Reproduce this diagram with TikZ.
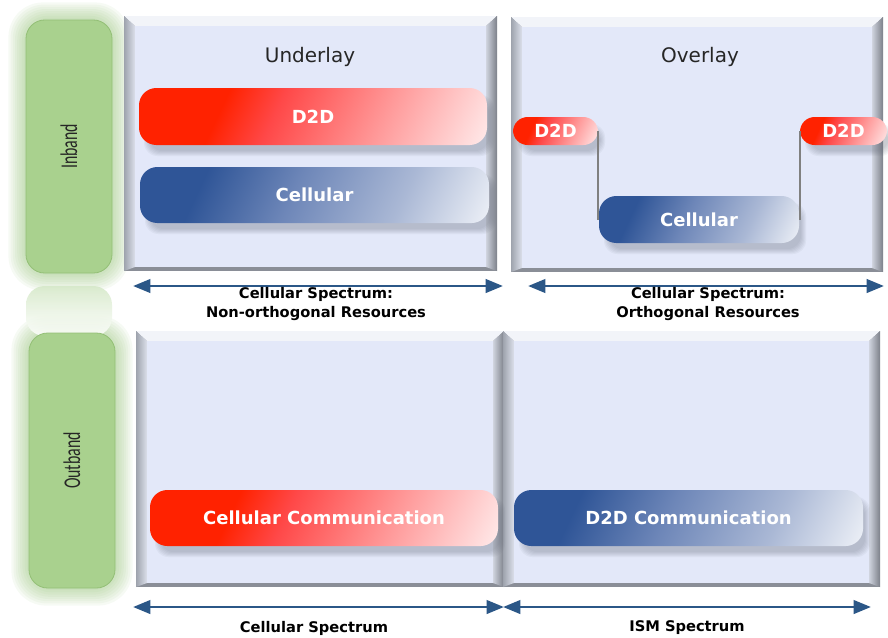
\documentclass[tikz,border=0pt]{standalone}
\usepackage{fontspec}
\setmainfont{DejaVu Sans}
\newfontfamily\condfont[FakeStretch=0.66]{Carlito}
\usetikzlibrary{arrows.meta}
\definecolor{redA}{HTML}{FF2200}
\definecolor{redM}{HTML}{FF4848}
\definecolor{redL}{HTML}{FF9A9A}
\definecolor{redW}{HTML}{FFE6E6}
\definecolor{blueA}{HTML}{2F5597}
\definecolor{blueM}{HTML}{6D86B8}
\definecolor{blueL}{HTML}{AAB8D5}
\definecolor{blueW}{HTML}{E9EDF5}
\definecolor{panelIn}{HTML}{E3E8F9}
\definecolor{bevTop}{HTML}{F2F4F9}
\definecolor{bevOut}{HTML}{9EA3AD}
\definecolor{bevIn}{HTML}{DCE0EB}
\definecolor{bevDark}{HTML}{7C8089}
\definecolor{bevBot}{HTML}{8A8E97}
\definecolor{greenBox}{HTML}{A9D18E}
\definecolor{greenEdge}{HTML}{93BF76}
\definecolor{greenGlow}{HTML}{8DC06C}
\definecolor{arrowBlue}{HTML}{2B5787}
\definecolor{txtDark}{HTML}{262626}
\definecolor{shadowGrey}{HTML}{5A6070}
\pgfdeclarehorizontalshading{redbar}{100bp}{color(0bp)=(redA); color(33bp)=(redA); color(43bp)=(redM); color(63bp)=(redL); color(82bp)=(redW); color(100bp)=(redW)}
\pgfdeclarehorizontalshading{bluebar}{100bp}{color(0bp)=(blueA); color(29bp)=(blueA); color(46bp)=(blueM); color(66bp)=(blueL); color(82bp)=(blueW); color(100bp)=(blueW)}
\newcommand\panelbox[4]{%
  \fill[bevBot] (#1,#2) rectangle (#3,#4);
  \fill[bevTop] (#1,#2) -- (#3,#2) -- (#3-11,#2+10) -- (#1+11,#2+10) -- cycle;
  \shade[left color=bevOut, right color=bevIn] (#1,#2) -- (#1+11,#2+10) -- (#1+11,#4-4) -- (#1,#4) -- cycle;
  \shade[left color=bevIn!80!bevOut, right color=bevDark] (#3,#2) -- (#3,#4) -- (#3-11,#4-4) -- (#3-11,#2+10) -- cycle;
  \fill[panelIn] (#1+11,#2+10) rectangle (#3-11,#4-4);
}
\newcommand\barshadow[4]{%
  \foreach \k in {0,...,5}{%
    \fill[shadowGrey, opacity=0.06, rounded corners=10] (#1+10-\k,#2+12-\k) rectangle (#3+2+\k,#4+6+\k);
  }%
}
\newcommand\glowbox[4]{%
  \foreach \k in {1,...,8}{%
    \fill[greenGlow, opacity=0.07, rounded corners=18+\k] (#1-2.2*\k,#2-2.2*\k) rectangle (#3+2.2*\k,#4+2.2*\k);
  }%
}
\tikzset{
  redbarst/.style={shading=redbar, shading angle=-25, rounded corners=13, inner sep=0pt,
    text=white, font=\bfseries\fontsize{13.5}{15}\selectfont},
  bluebarst/.style={shading=bluebar, shading angle=-25, rounded corners=13, inner sep=0pt,
    text=white, font=\bfseries\fontsize{13.5}{15}\selectfont},
  sz/.style 2 args={minimum width=#1*0.75pt, minimum height=#2*0.75pt},
  greenst/.style={fill=greenBox, draw=greenEdge, line width=0.6pt, rounded corners=14, inner sep=0pt,
    text=txtDark, font=\condfont\fontsize{18}{20}\selectfont},
  spec/.style={draw=arrowBlue, line width=2.2pt, {Triangle[length=13pt,width=10pt]}-{Triangle[length=13pt,width=10pt]}},
  speclabel/.style={font=\bfseries\fontsize{11}{13}\selectfont, align=center, text=black, inner sep=0pt},
  titlest/.style={font=\fontsize{15}{17}\selectfont, text=txtDark, inner sep=0pt},
  link/.style={draw=black!50, line width=1.2pt}
}
\begin{document}
\begin{tikzpicture}[x=0.75pt, y=-0.75pt]
\useasboundingbox (0,0) rectangle (888,637);
\fill[white] (0,0) rectangle (888,637);
% glows
\glowbox{26}{20}{112}{273}
\glowbox{29}{333}{115}{588}
% reflection of Inband
\shade[top color=greenBox!50!white, bottom color=white, rounded corners=14, opacity=0.85] (26,286) rectangle (112,336);
% panels
\panelbox{124}{16}{497}{271}
\panelbox{511}{17}{883}{272}
\panelbox{136}{331}{504}{587}
\panelbox{503}{331}{880}{587}
% side labels
\node[greenst, sz={86}{253}] (inband) at (69,146.5) {\rotatebox{90}{Inband}};
\node[greenst, sz={86}{255}] (outband) at (72,460.5) {\rotatebox{90}{Outband}};
% titles
\node[titlest] (under) at (310,57) {Underlay};
\node[titlest] (over) at (700,57) {Overlay};
% shadows
\barshadow{139}{88}{487}{145}
\barshadow{140}{167}{489}{223}
\barshadow{513}{117}{598}{145}
\barshadow{800}{117}{887}{145}
\barshadow{599}{196}{799}{243}
\barshadow{150}{490}{498}{546}
\barshadow{514}{490}{863}{546}
% bars
\node[redbarst, sz={348}{57}] (uD2D) at (313,116.5) {D2D};
\node[bluebarst, sz={349}{56}] (uCell) at (314.5,195) {Cellular};
\node[bluebarst, sz={200}{47}] (oCell) at (699,219.5) {Cellular};
\node[redbarst, sz={85}{28}, rounded corners=11] (oD2DL) at (555.5,131) {D2D};
\node[redbarst, sz={87}{28}, rounded corners=11] (oD2DR) at (843.5,131) {D2D};
\node[redbarst, sz={348}{56}] (bCell) at (324,518) {Cellular Communication};
\node[bluebarst, sz={349}{56}] (bD2D) at (688.5,518) {D2D Communication};
% overlay links
\draw[link] (oD2DL.east) -- (oD2DL.east |- oCell.west);
\draw[link] (oD2DR.west) -- (oD2DR.west |- oCell.east);
% spectrum arrows
\coordinate (a1l) at (133,286); \coordinate (a1r) at (503,286);
\coordinate (a2l) at (528,286); \coordinate (a2r) at (884,286);
\coordinate (b1l) at (133,607); \coordinate (b1r) at (504,607);
\coordinate (b2l) at (503,607); \coordinate (b2r) at (871,607);
\draw[spec] (a1l) -- (a1r);
\draw[spec] (a2l) -- (a2r);
\draw[spec] (b1l) -- (b1r);
\draw[spec] (b2l) -- (b2r);
\node[speclabel] (l1) at (316,304) {Cellular Spectrum:\\[1pt]Non-orthogonal Resources};
\node[speclabel] (l2) at (708,304) {Cellular Spectrum:\\[1pt]Orthogonal Resources};
\node[speclabel] (l3) at (314,628) {Cellular Spectrum};
\node[speclabel] (l4) at (687,628) {ISM Spectrum};
\end{tikzpicture}
\end{document}
